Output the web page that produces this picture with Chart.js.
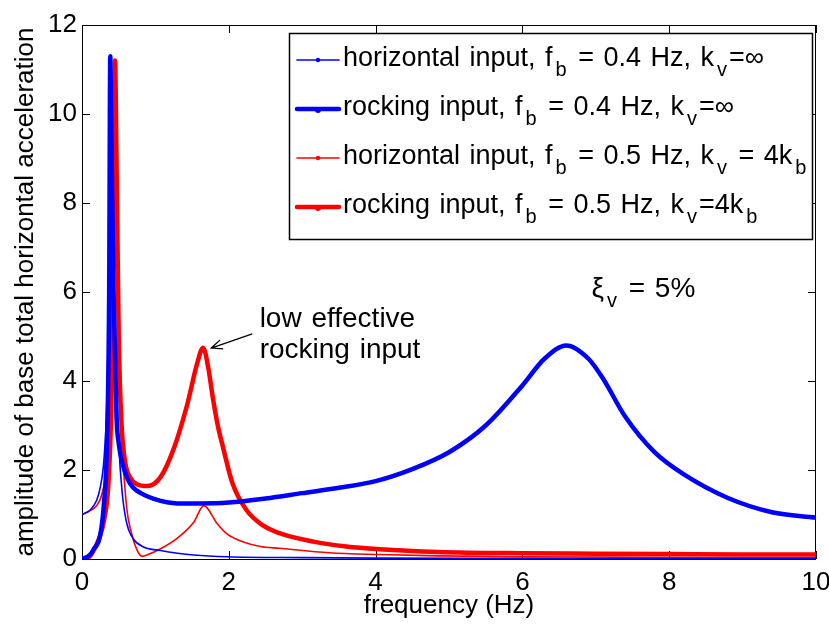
<!DOCTYPE html>
<html>
<head>
<meta charset="utf-8">
<script src="https://cdn.jsdelivr.net/npm/chart.js@4.4.1/dist/chart.umd.min.js"></script>
<style>
  html, body { margin: 0; padding: 0; background: #fff; }
  #wrap { width: 829px; height: 624px; }
</style>
</head>
<body>
<div id="wrap"><canvas id="chart" width="829" height="624"></canvas></div>
<script>
// Values: frequency (Hz) -> amplitude
// horizontal input, fb = 0.4 Hz, kv = inf (thin blue)
const hBlueX = [0, 0.1, 0.2, 0.25, 0.3, 0.34, 0.37, 0.39, 0.41, 0.45, 0.5, 0.55, 0.61, 0.7, 0.84, 1.07, 1.3, 1.52, 1.98, 3, 4, 6, 8, 10];
const hBlueY = [1.0, 1.08, 1.32, 1.62, 2.25, 3.6, 6.5, 11.0, 9.0, 5.0, 2.6, 1.45, 0.8, 0.45, 0.27, 0.19, 0.13, 0.09, 0.05, 0.03, 0.02, 0.015, 0.01, 0.01];
// rocking input, fb = 0.4 Hz, kv = inf (thick blue)
const rBlueX = [0, 0.1, 0.16, 0.25, 0.3, 0.34, 0.37, 0.385, 0.4, 0.43, 0.47, 0.5, 0.55, 0.62, 0.7, 0.8, 0.98, 1.3, 1.6, 2.0, 2.5, 3.0, 3.5, 4.0, 4.5, 5.0, 5.5, 6.0, 6.3, 6.6, 6.9, 7.1, 7.4, 7.8, 8.2, 8.8, 9.4, 10];
const rBlueY = [0, 0.08, 0.22, 0.55, 1.27, 2.6, 6.0, 11.3, 9.5, 6.0, 3.2, 2.6, 2.16, 1.8, 1.6, 1.48, 1.35, 1.25, 1.25, 1.27, 1.36, 1.48, 1.6, 1.75, 2.02, 2.4, 3.0, 3.9, 4.5, 4.8, 4.5, 4.05, 3.2, 2.4, 1.9, 1.37, 1.05, 0.93];
// horizontal input, fb = 0.5 Hz, kv = 4kb (thin red)
const hRedX = [0, 0.1, 0.2, 0.27, 0.33, 0.38, 0.42, 0.46, 0.5, 0.54, 0.6, 0.68, 0.75, 0.82, 0.9, 1.07, 1.3, 1.52, 1.66, 1.84, 1.98, 2.2, 2.43, 2.69, 3.37, 4.05, 4.85, 6, 8, 10];
const hRedY = [1.0, 1.08, 1.2, 1.45, 2.0, 3.2, 5.5, 10.0, 6.0, 3.0, 1.3, 0.55, 0.2, 0.06, 0.1, 0.23, 0.47, 0.82, 1.2, 0.8, 0.56, 0.38, 0.28, 0.24, 0.14, 0.1, 0.07, 0.05, 0.04, 0.03];
// rocking input, fb = 0.5 Hz, kv = 4kb (thick red)
const rRedX = [0, 0.1, 0.16, 0.23, 0.3, 0.36, 0.4, 0.43, 0.45, 0.47, 0.5, 0.54, 0.59, 0.65, 0.75, 0.89, 1.07, 1.25, 1.43, 1.57, 1.65, 1.72, 1.78, 1.85, 1.92, 2.05, 2.24, 2.46, 2.69, 3.15, 3.6, 4.05, 4.85, 6, 7, 8, 9, 10];
const rRedY = [0, 0.05, 0.2, 0.45, 0.87, 1.7, 3.5, 7.0, 11.2, 9.0, 5.0, 3.0, 2.16, 1.85, 1.68, 1.64, 1.84, 2.48, 3.45, 4.4, 4.75, 4.3, 3.65, 3.0, 2.52, 1.7, 1.1, 0.76, 0.58, 0.39, 0.28, 0.22, 0.16, 0.13, 0.12, 0.11, 0.1, 0.1];

const xTicks = [0, 2, 4, 6, 8, 10];
const yTicks = [0, 2, 4, 6, 8, 10, 12];

// "_x" marks a one-letter subscript
const legendLabels = [
    'horizontal input, f_b = 0.4 Hz, k_v=\u221e',
    'rocking input, f_b = 0.4 Hz, k_v=\u221e',
    'horizontal input, f_b = 0.5 Hz, k_v = 4k_b',
    'rocking input, f_b = 0.5 Hz, k_v=4k_b'
];

const FONT = '"Liberation Sans", Arial, Helvetica, sans-serif';
const BLUE = '#0000ff';
const RED = '#ff0000';

function pairs(xs, ys) {
    return xs.map((x, i) => ({ x: x, y: ys[i] }));
}

// draws text with _x subscripts (TeX-like spacing), returns end x
function drawRich(ctx, str, x, y, size) {
    const parts = str.split(/(_.)/);
    ctx.textAlign = 'left';
    ctx.textBaseline = 'alphabetic';
    for (const p of parts) {
        if (!p) continue;
        if (p[0] === '_') {
            ctx.font = '20px ' + FONT;
            x += 3;
            ctx.fillText(p[1], x, y + 10);
            x += ctx.measureText(p[1]).width + 2;
        } else {
            ctx.font = size + 'px ' + FONT;
            const words = p.split(' ');
            const sp = ctx.measureText(' ').width + 2;
            words.forEach((w, i) => {
                if (i > 0) x += sp;
                if (w) { ctx.fillText(w, x, y); x += ctx.measureText(w).width; }
            });
        }
    }
    return x;
}

// MATLAB style box with inward ticks, legend and notes
const framePlugin = {
    id: 'frame',
    beforeDatasetsDraw(chart) {
        const { ctx, chartArea: a, scales } = chart;
        ctx.save();
        ctx.strokeStyle = '#000';
        ctx.lineWidth = 1;
        ctx.strokeRect(a.left + 0.5, a.top + 0.5, a.right - a.left - 1, a.bottom - a.top);
        ctx.beginPath();
        xTicks.forEach(v => {
            const px = Math.round(scales.x.getPixelForValue(v)) + 0.5;
            ctx.moveTo(px, a.bottom); ctx.lineTo(px, a.bottom - 8);
            ctx.moveTo(px, a.top); ctx.lineTo(px, a.top + 8);
        });
        yTicks.forEach(v => {
            const py = Math.round(scales.y.getPixelForValue(v)) + 0.5;
            ctx.moveTo(a.left, py); ctx.lineTo(a.left + 8, py);
            ctx.moveTo(a.right, py); ctx.lineTo(a.right - 8, py);
        });
        ctx.stroke();
        ctx.restore();
    },
    afterDraw(chart) {
        const { ctx, scales } = chart;
        const sx = scales.x, sy = scales.y;
        ctx.save();
        ctx.fillStyle = '#000';

        // annotations
        drawRich(ctx, '\u03be_v = 5%', sx.getPixelForValue(6.94), sy.getPixelForValue(5.89), 28);
        drawRich(ctx, 'low effective', sx.getPixelForValue(2.42), sy.getPixelForValue(5.21), 28);
        drawRich(ctx, 'rocking input', sx.getPixelForValue(2.42), sy.getPixelForValue(4.52), 28);

        // arrow to the rocking peak
        const x0 = sx.getPixelForValue(2.32), y0 = sy.getPixelForValue(5.06);
        const x1 = sx.getPixelForValue(1.76), y1 = sy.getPixelForValue(4.74);
        const ang = Math.atan2(y1 - y0, x1 - x0);
        ctx.strokeStyle = '#000';
        ctx.lineWidth = 1.2;
        ctx.beginPath();
        ctx.moveTo(x0, y0); ctx.lineTo(x1, y1);
        ctx.moveTo(x1 - 12 * Math.cos(ang - 0.4), y1 - 12 * Math.sin(ang - 0.4));
        ctx.lineTo(x1, y1);
        ctx.lineTo(x1 - 12 * Math.cos(ang + 0.4), y1 - 12 * Math.sin(ang + 0.4));
        ctx.stroke();

        // legend box
        const L = 289, T = 33, R = 812, B = 239;
        ctx.fillStyle = '#fff';
        ctx.fillRect(L, T, R - L, B - T);
        ctx.strokeStyle = '#000';
        ctx.lineWidth = 1.5;
        ctx.strokeRect(L + 0.5, T + 0.5, R - L, B - T);
        chart.data.datasets.forEach((ds, i) => {
            const cy = 60 + i * 49;
            ctx.strokeStyle = ds.borderColor;
            ctx.fillStyle = ds.borderColor;
            ctx.lineWidth = ds.borderWidth;
            ctx.lineCap = 'round';
            ctx.beginPath();
            ctx.moveTo(297, cy); ctx.lineTo(339, cy);
            ctx.stroke();
            ctx.beginPath();
            ctx.arc(318, cy + (ds.borderWidth > 2 ? 1 : 0), ds.borderWidth > 2 ? 3 : 2.2, 0, Math.PI * 2);
            ctx.fill();
            ctx.fillStyle = '#000';
            drawRich(ctx, ds.label, 343, cy + 6, 27);
        });
        ctx.restore();
    }
};

const tickFont = { family: FONT, size: 26 };

new Chart(document.getElementById('chart'), {
    type: 'line',
    data: {
        datasets: [
            { label: legendLabels[0], data: pairs(hBlueX, hBlueY), borderColor: BLUE, borderWidth: 1.6 },
            { label: legendLabels[1], data: pairs(rBlueX, rBlueY), borderColor: BLUE, borderWidth: 4.5 },
            { label: legendLabels[2], data: pairs(hRedX, hRedY), borderColor: RED, borderWidth: 1.6 },
            { label: legendLabels[3], data: pairs(rRedX, rRedY), borderColor: RED, borderWidth: 4.5 }
        ]
    },
    options: {
        responsive: false,
        animation: false,
        layout: { padding: { left: 0, right: 13, top: 25, bottom: 0 } },
        elements: {
            point: { radius: 0 },
            line: { cubicInterpolationMode: 'monotone', borderJoinStyle: 'round', borderCapStyle: 'round' }
        },
        plugins: { legend: { display: false }, tooltip: { enabled: false } },
        scales: {
            x: {
                type: 'linear', min: 0, max: 10,
                afterBuildTicks: s => { s.ticks = xTicks.map(v => ({ value: v })); },
                afterFit: s => { s.height = 65; s.paddingLeft = 0; s.paddingRight = 0; },
                grid: { display: false, drawTicks: false },
                border: { display: false },
                ticks: { color: '#000', font: tickFont, padding: 8, maxRotation: 0, autoSkip: false },
                title: { display: true, text: 'frequency (Hz)', color: '#000', font: tickFont, padding: { top: 0, bottom: 3 } }
            },
            y: {
                type: 'linear', min: 0, max: 12,
                afterBuildTicks: s => { s.ticks = yTicks.map(v => ({ value: v })); },
                afterFit: s => { s.width = 82; s.paddingTop = 0; s.paddingBottom = 0; },
                grid: { display: false, drawTicks: false },
                border: { display: false },
                ticks: { color: '#000', font: tickFont, padding: 5, autoSkip: false },
                title: { display: true, text: 'amplitude of base total horizontal acceleration', color: '#000', font: tickFont, padding: { top: 10, bottom: 0 } }
            }
        }
    },
    plugins: [framePlugin]
});
</script>
</body>
</html>
